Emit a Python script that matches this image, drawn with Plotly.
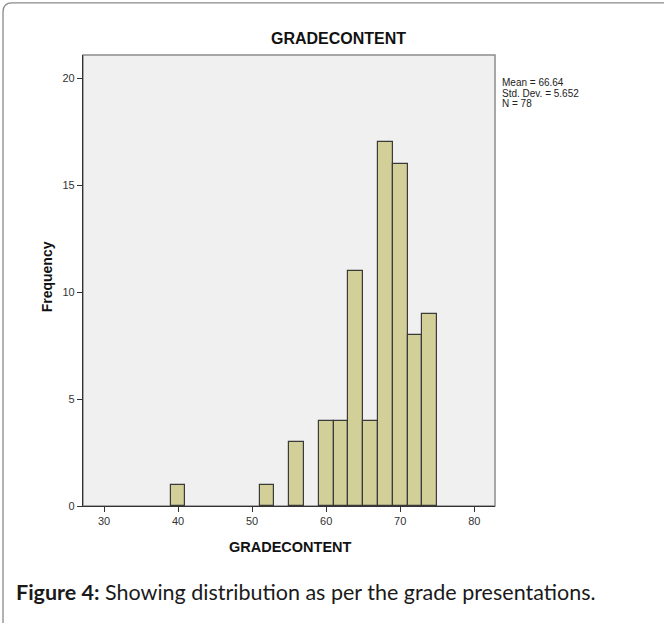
import plotly.graph_objects as go

# Data (histogram bins of width 2, centres)
bin_centers = [40, 52, 56, 60, 62, 64, 66, 68, 70, 72, 74]
frequencies = [1, 1, 3, 4, 4, 11, 4, 17, 16, 8, 9]
bin_width = 2
x_ticks = [30, 40, 50, 60, 70, 80]
y_ticks = [0, 5, 10, 15, 20]
stats_lines = ["Mean = 66.64", "Std. Dev. = 5.652", "N = 78"]
chart_title = "GRADECONTENT"
x_title = "GRADECONTENT"
y_title = "Frequency"

W, H = 664, 623
px = lambda v: v / W
py = lambda v: 1 - v / H

x0, x1 = 83, 495
y0, y1 = 55.5, 511

fig = go.Figure()
fig.add_trace(go.Bar(
    x=bin_centers, y=frequencies, width=[bin_width] * len(bin_centers),
    marker=dict(color="#d3cf98", line=dict(color="#3a3a3a", width=1.2)),
    hoverinfo="x+y", showlegend=False,
))

axis_font = dict(family="Liberation Sans, Arial, sans-serif", size=11, color="#333333")

fig.update_layout(
    width=W, height=H,
    margin=dict(l=0, r=0, t=0, b=0),
    paper_bgcolor="white",
    plot_bgcolor="#f0f0f0",
    bargap=0,
    xaxis=dict(
        domain=[px(x0), px(x1)], range=[27.16, 82.8],
        tickvals=x_ticks, ticks="outside", ticklen=5, tickcolor="#333333",
        showgrid=False, zeroline=False, showline=True, linecolor="#333333", linewidth=1.2,
        tickfont=axis_font,
    ),
    yaxis=dict(
        domain=[1 - y1 / H, 1 - y0 / H], range=[0, 21.09],
        tickvals=y_ticks, ticks="outside", ticklen=5, tickcolor="#333333",
        showgrid=False, zeroline=False, showline=True, linecolor="#333333", linewidth=1.2,
        tickfont=axis_font,
    ),
    font=dict(family="Liberation Sans, Arial, sans-serif"),
)

shapes = [
    dict(type="rect", xref="paper", yref="paper", x0=px(x0), x1=px(x1), y0=py(y1), y1=py(y0),
         line=dict(color="#8c8c8c", width=1.5), layer="below"),
    dict(type="path", xref="paper", yref="paper",
         path=f"M {px(3)},{py(640)} L {px(3)},{py(12)} Q {px(3)},{py(3)} {px(12)},{py(3)} L {px(700)},{py(3)}",
         line=dict(color="#8a8a8a", width=1.3)),
]
fig.update_layout(shapes=shapes)

annotations = [
    dict(text=f"<b>{chart_title}</b>", x=px(338), y=py(39), xref="paper", yref="paper",
         showarrow=False, xanchor="center", yanchor="middle",
         font=dict(family="Liberation Sans, Arial, sans-serif", size=16, color="#111111")),
    dict(text=f"<b>{x_title}</b>", x=px(290), y=py(552), xref="paper", yref="paper",
         showarrow=False, xanchor="center", yanchor="middle",
         font=dict(family="Liberation Sans, Arial, sans-serif", size=14.5, color="#111111")),
    dict(text=f"<b>{y_title}</b>", x=px(47), y=py(280), xref="paper", yref="paper",
         showarrow=False, xanchor="center", yanchor="middle", textangle=-90,
         font=dict(family="Liberation Sans, Arial, sans-serif", size=14, color="#111111")),
    dict(text="<b>Figure 4:</b> Showing distribution as per the grade presentations.",
         x=px(14), y=py(598), xref="paper", yref="paper",
         showarrow=False, xanchor="left", yanchor="middle",
         font=dict(family="Lato, sans-serif", size=21.5, color="#1a1a1a")),
]
for i, line in enumerate(stats_lines):
    annotations.append(dict(text=line, x=px(501), y=py(83 + 11 * i), xref="paper", yref="paper",
                            showarrow=False, xanchor="left", yanchor="middle", align="left",
                            borderpad=0,
                            font=dict(family="Liberation Sans, Arial, sans-serif", size=10, color="#222222")))
fig.update_layout(annotations=annotations)

fig.write_html("out.html")
